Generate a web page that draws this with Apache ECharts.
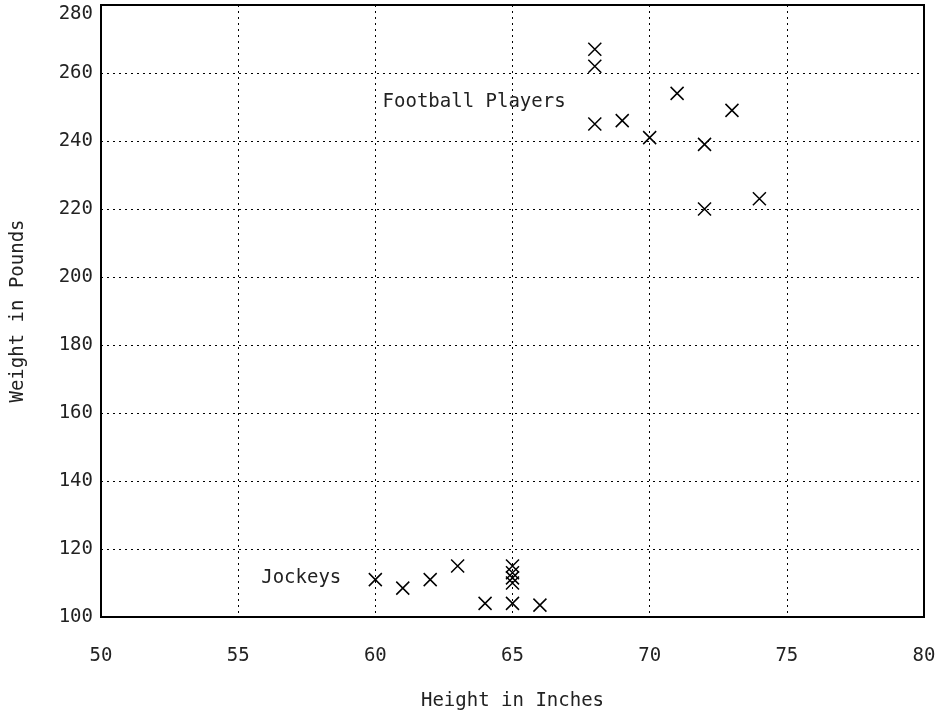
<!DOCTYPE html>
<html>
<head>
<meta charset="utf-8">
<script src="https://cdn.jsdelivr.net/npm/echarts@6/dist/echarts.min.js"></script>
<style>
  html, body { margin: 0; padding: 0; background: #fff; }
  #chart { width: 942px; height: 717px; }
</style>
</head>
<body>
<div id="chart"></div>
<script>
// football players: height (in) / weight (lb)
const footballHeight = [68, 68, 68, 69, 70, 71, 72, 73, 72, 74];
const footballWeight = [267, 262, 245, 246, 241, 254, 239, 249, 220, 223];

// jockeys
const jockeyHeight = [60, 61, 62, 63, 64, 65, 65, 65, 65, 65, 66];
const jockeyWeight = [111, 108.5, 111, 115, 104, 115, 113, 111.5, 110, 104, 103.5];

// group labels placed in data coordinates
const groupNames = ['Football Players', 'Jockeys'];
const groupLabelX = [63.6, 57.3];
const groupLabelY = [251.4, 111.5];

const xTicks = [50, 80, 5];   // min, max, step
const yTicks = [100, 280, 20];

const font = 'DejaVu Sans Mono';
const txt = '#222';
const crossSymbol = 'path://M0,0L10,10M10,0L0,10';

const pair = (xs, ys) => xs.map((x, i) => [x, ys[i]]);

const chart = echarts.init(document.getElementById('chart'));

const dotted = {
  show: true,
  lineStyle: { color: '#000', width: 1, type: [2, 4] }
};

const crossStyle = { color: '#000', borderColor: '#000', borderWidth: 1.5, opacity: 1 };

const option = {
  backgroundColor: '#fff',
  animation: false,
  grid: {
    left: 101, right: 18, top: 5, bottom: 100,
    show: true,
    borderColor: '#000',
    borderWidth: 2
  },
  xAxis: {
    type: 'value',
    min: xTicks[0], max: xTicks[1], interval: xTicks[2],
    name: 'Height in Inches',
    nameLocation: 'middle',
    nameGap: 75,
    nameTextStyle: { fontFamily: font, fontSize: 19, color: txt },
    axisLine: { lineStyle: { color: '#000', width: 2 } },
    axisTick: { show: false },
    axisLabel: { margin: 30, fontFamily: font, fontSize: 19, color: txt },
    splitLine: dotted
  },
  yAxis: {
    type: 'value',
    min: yTicks[0], max: yTicks[1], interval: yTicks[2],
    name: 'Weight in Pounds',
    nameLocation: 'middle',
    nameGap: 73,
    nameRotate: 90,
    nameTextStyle: { fontFamily: font, fontSize: 19, color: txt },
    axisLine: { lineStyle: { color: '#000', width: 2 } },
    axisTick: { show: false },
    axisLabel: {
      margin: 8, fontFamily: font, fontSize: 19, color: txt,
      verticalAlignMaxLabel: 'top'
    },
    splitLine: dotted
  },
  series: [
    {
      name: 'Football Players',
      type: 'scatter',
      symbol: crossSymbol,
      symbolSize: 13,
      itemStyle: crossStyle,
      data: pair(footballHeight, footballWeight)
    },
    {
      name: 'Jockeys',
      type: 'scatter',
      symbol: crossSymbol,
      symbolSize: 13,
      itemStyle: crossStyle,
      data: pair(jockeyHeight, jockeyWeight)
    },
    {
      name: 'labels',
      type: 'scatter',
      symbolSize: 0,
      silent: true,
      itemStyle: { opacity: 1 },
      label: {
        show: true,
        position: 'inside',
        formatter: p => p.name,
        fontFamily: font,
        fontSize: 19,
        color: txt,
        textBorderWidth: 0
      },
      data: groupNames.map((n, i) => ({ name: n, value: [groupLabelX[i], groupLabelY[i]] }))
    }
  ]
};

chart.setOption(option);
</script>
</body>
</html>
